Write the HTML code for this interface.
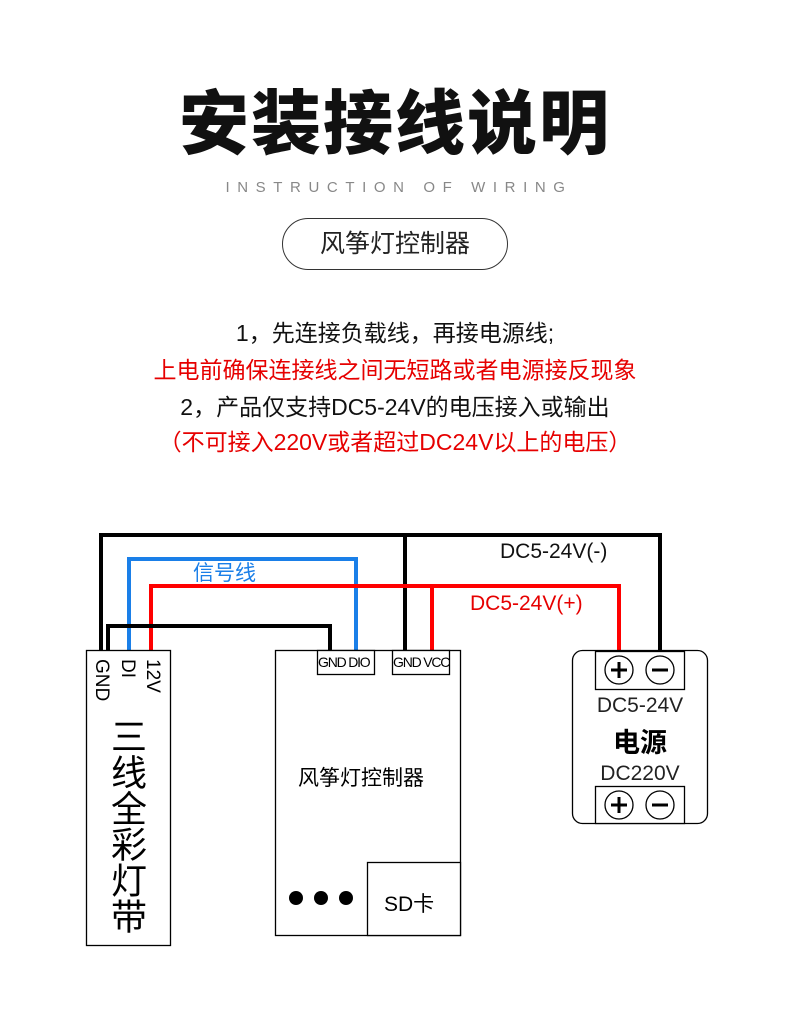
<!DOCTYPE html>
<html><head><meta charset="utf-8"><style>
body{margin:0;width:790px;height:1009px;background:#fff;position:relative;overflow:hidden;font-family:"Liberation Sans","Noto Sans CJK SC",sans-serif;}
.a{position:absolute;}
.c{position:absolute;left:0;width:790px;text-align:center;}
.v{position:absolute;writing-mode:vertical-rl;font-size:19px;line-height:20px;}
</style></head><body>
<div class="c" style="top:82px;font-size:70px;font-weight:900;letter-spacing:2px;color:#111;line-height:84px;">安装接线说明</div>
<div class="c" style="top:179px;font-size:15px;letter-spacing:7.6px;color:#888;padding-left:4px;">INSTRUCTION OF WIRING</div>
<div class="a" style="left:282px;top:218px;width:224px;height:50px;border:1.5px solid #333;border-radius:26px;text-align:center;line-height:50px;font-size:25px;color:#222;">风筝灯控制器</div>
<div class="c" style="top:318px;font-size:23px;color:#111;line-height:30px;">1，先连接负载线，再接电源线;</div>
<div class="c" style="top:355px;font-size:23px;color:#e60000;line-height:30px;">上电前确保连接线之间无短路或者电源接反现象</div>
<div class="c" style="top:392px;font-size:23px;color:#111;line-height:30px;">2，产品仅支持DC5-24V的电压接入或输出</div>
<div class="c" style="top:427px;font-size:23px;color:#e60000;line-height:30px;">（不可接入220V或者超过DC24V以上的电压）</div>
<svg class="a" style="left:0;top:0" width="790" height="1009">
<g fill="none" stroke-width="4">
<polyline points="101,650 101,535 660,535 660,652" stroke="#000"/>
<line x1="405" y1="535" x2="405" y2="650" stroke="#000"/>
<polyline points="129,650 129,559 356,559 356,650" stroke="#1a7fe8"/>
<polyline points="151,650 151,586 619,586 619,652" stroke="#f00"/>
<line x1="432" y1="586" x2="432" y2="650" stroke="#f00"/>
<polyline points="108,650 108,626 330,626 330,650" stroke="#000"/>
</g>
<g fill="#fff" stroke="#000" stroke-width="1.3">
<rect x="86.5" y="650.5" width="84" height="295"/>
<rect x="275.5" y="650.5" width="185" height="285"/>
<rect x="317.5" y="650.5" width="57" height="24"/>
<rect x="392.5" y="650.5" width="57" height="24"/>
<rect x="367.5" y="862.5" width="93" height="73"/>
<rect x="572.5" y="650.5" width="135" height="173" rx="10"/>
<rect x="595.5" y="651.5" width="89" height="38"/>
<rect x="595.5" y="786.5" width="89" height="37"/>
<circle cx="619" cy="670" r="14"/><circle cx="660" cy="670" r="14"/>
<circle cx="619" cy="805" r="14"/><circle cx="660" cy="805" r="14"/>
</g>
<g stroke="#000" stroke-width="3">
<line x1="611" y1="670" x2="627" y2="670"/><line x1="619" y1="662" x2="619" y2="678"/>
<line x1="652" y1="670" x2="668" y2="670"/>
<line x1="611" y1="805" x2="627" y2="805"/><line x1="619" y1="797" x2="619" y2="813"/>
<line x1="652" y1="805" x2="668" y2="805"/>
</g>
<circle cx="296" cy="898" r="7"/><circle cx="321" cy="898" r="7"/><circle cx="346" cy="898" r="7"/>
</svg>
<div class="a" style="left:193px;top:557px;font-size:21px;color:#1a7fe8;">信号线</div>
<div class="a" style="left:500px;top:540px;font-size:21px;color:#111;">DC5-24V(-)</div>
<div class="a" style="left:470px;top:592px;font-size:21px;color:#e60000;">DC5-24V(+)</div>
<div class="a" style="left:318px;top:654px;font-size:14px;letter-spacing:-1.2px;">GND DIO</div>
<div class="a" style="left:393px;top:654px;font-size:14px;letter-spacing:-1.2px;">GND VCC</div>
<div class="v" style="left:91px;top:659px;">GND</div>
<div class="v" style="left:117px;top:659px;">DI</div>
<div class="v" style="left:142px;top:659px;">12V</div>
<div class="a" style="left:106px;top:718px;font-size:36px;writing-mode:vertical-rl;line-height:40px;">三线全彩灯带</div>
<div class="a" style="left:298px;top:762px;font-size:21px;">风筝灯控制器</div>
<div class="a" style="left:384px;top:888px;font-size:21px;">SD卡</div>
<div class="a" style="left:572px;top:694px;width:136px;text-align:center;font-size:21px;color:#222;">DC5-24V</div>
<div class="a" style="left:572px;top:721px;width:136px;text-align:center;font-size:27px;font-weight:bold;">电源</div>
<div class="a" style="left:572px;top:762px;width:136px;text-align:center;font-size:21px;color:#222;">DC220V</div>
</body></html>
